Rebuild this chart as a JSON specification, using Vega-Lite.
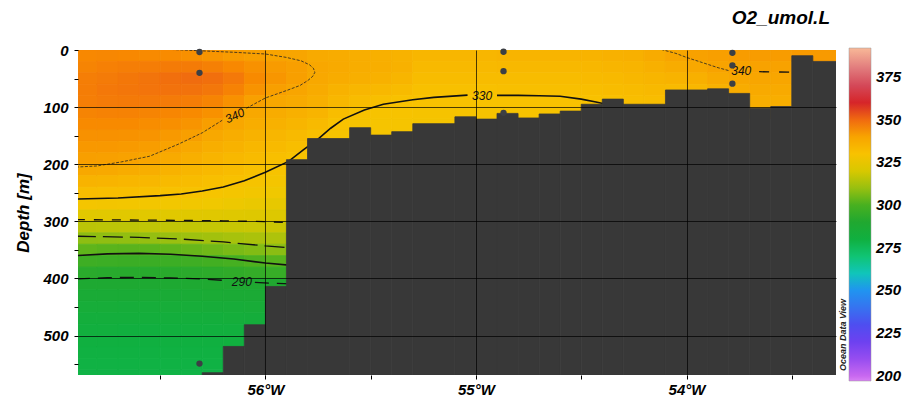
{
  "$schema": "https://vega.github.io/schema/vega-lite/v6.json",
  "width": 758,
  "height": 325,
  "autosize": "none",
  "padding": {"left": 78, "top": 50, "right": 70, "bottom": 30},
  "background": "white",
  "title": {"text": "O2_umol.L", "anchor": "end", "frame": "group", "fontSize": 19, "font": "Liberation Sans", "fontStyle": "italic", "fontWeight": "bold", "color": "#000", "offset": 4, "baseline": "alphabetic", "dx": -6, "dy": 4},
  "config": {"font": "Liberation Sans", "view": {"stroke": null}},
  "datasets": {
    "cells": [
      {"lon":-56.9,"lon2":-56.8,"dep":0,"dep2":20,"o2":345.3},{"lon":-56.9,"lon2":-56.8,"dep":20,"dep2":40,"o2":346.0},{"lon":-56.9,"lon2":-56.8,"dep":40,"dep2":60,"o2":346.8},{"lon":-56.9,"lon2":-56.8,"dep":60,"dep2":80,"o2":347.0},{"lon":-56.9,"lon2":-56.8,"dep":80,"dep2":100,"o2":346.8},{"lon":-56.9,"lon2":-56.8,"dep":100,"dep2":120,"o2":346.0},{"lon":-56.9,"lon2":-56.8,"dep":120,"dep2":140,"o2":345.0},{"lon":-56.9,"lon2":-56.8,"dep":140,"dep2":160,"o2":343.7},{"lon":-56.9,"lon2":-56.8,"dep":160,"dep2":180,"o2":342.3},{"lon":-56.9,"lon2":-56.8,"dep":180,"dep2":200,"o2":340.9},{"lon":-56.9,"lon2":-56.8,"dep":200,"dep2":220,"o2":338.8},{"lon":-56.9,"lon2":-56.8,"dep":220,"dep2":240,"o2":335.3},{"lon":-56.9,"lon2":-56.8,"dep":240,"dep2":260,"o2":331.9},{"lon":-56.9,"lon2":-56.8,"dep":260,"dep2":280,"o2":327.5},{"lon":-56.9,"lon2":-56.8,"dep":280,"dep2":300,"o2":321.9},{"lon":-56.9,"lon2":-56.8,"dep":300,"dep2":320,"o2":315.5},{"lon":-56.9,"lon2":-56.8,"dep":320,"dep2":340,"o2":308.8},{"lon":-56.9,"lon2":-56.8,"dep":340,"dep2":360,"o2":302.9},{"lon":-56.9,"lon2":-56.8,"dep":360,"dep2":380,"o2":297.5},{"lon":-56.9,"lon2":-56.8,"dep":380,"dep2":400,"o2":292.5},{"lon":-56.9,"lon2":-56.8,"dep":400,"dep2":420,"o2":288.8},{"lon":-56.9,"lon2":-56.8,"dep":420,"dep2":440,"o2":286.3},{"lon":-56.9,"lon2":-56.8,"dep":440,"dep2":460,"o2":284.2},{"lon":-56.9,"lon2":-56.8,"dep":460,"dep2":480,"o2":282.6},{"lon":-56.9,"lon2":-56.8,"dep":480,"dep2":500,"o2":281.0},{"lon":-56.9,"lon2":-56.8,"dep":500,"dep2":520,"o2":280.2},{"lon":-56.9,"lon2":-56.8,"dep":520,"dep2":540,"o2":279.4},{"lon":-56.9,"lon2":-56.8,"dep":540,"dep2":560,"o2":278.7},{"lon":-56.9,"lon2":-56.8,"dep":560,"dep2":580,"o2":278.0},
      {"lon":-56.8,"lon2":-56.7,"dep":0,"dep2":20,"o2":345.5},{"lon":-56.8,"lon2":-56.7,"dep":20,"dep2":40,"o2":346.5},{"lon":-56.8,"lon2":-56.7,"dep":40,"dep2":60,"o2":347.4},{"lon":-56.8,"lon2":-56.7,"dep":60,"dep2":80,"o2":347.8},{"lon":-56.8,"lon2":-56.7,"dep":80,"dep2":100,"o2":347.4},{"lon":-56.8,"lon2":-56.7,"dep":100,"dep2":120,"o2":346.3},{"lon":-56.8,"lon2":-56.7,"dep":120,"dep2":140,"o2":345.0},{"lon":-56.8,"lon2":-56.7,"dep":140,"dep2":160,"o2":343.7},{"lon":-56.8,"lon2":-56.7,"dep":160,"dep2":180,"o2":342.3},{"lon":-56.8,"lon2":-56.7,"dep":180,"dep2":200,"o2":340.8},{"lon":-56.8,"lon2":-56.7,"dep":200,"dep2":220,"o2":338.3},{"lon":-56.8,"lon2":-56.7,"dep":220,"dep2":240,"o2":334.9},{"lon":-56.8,"lon2":-56.7,"dep":240,"dep2":260,"o2":331.5},{"lon":-56.8,"lon2":-56.7,"dep":260,"dep2":280,"o2":327.1},{"lon":-56.8,"lon2":-56.7,"dep":280,"dep2":300,"o2":321.8},{"lon":-56.8,"lon2":-56.7,"dep":300,"dep2":320,"o2":315.7},{"lon":-56.8,"lon2":-56.7,"dep":320,"dep2":340,"o2":309.0},{"lon":-56.8,"lon2":-56.7,"dep":340,"dep2":360,"o2":302.3},{"lon":-56.8,"lon2":-56.7,"dep":360,"dep2":380,"o2":296.9},{"lon":-56.8,"lon2":-56.7,"dep":380,"dep2":400,"o2":292.1},{"lon":-56.8,"lon2":-56.7,"dep":400,"dep2":420,"o2":288.6},{"lon":-56.8,"lon2":-56.7,"dep":420,"dep2":440,"o2":286.1},{"lon":-56.8,"lon2":-56.7,"dep":440,"dep2":460,"o2":284.1},{"lon":-56.8,"lon2":-56.7,"dep":460,"dep2":480,"o2":282.5},{"lon":-56.8,"lon2":-56.7,"dep":480,"dep2":500,"o2":281.0},{"lon":-56.8,"lon2":-56.7,"dep":500,"dep2":520,"o2":280.2},{"lon":-56.8,"lon2":-56.7,"dep":520,"dep2":540,"o2":279.4},{"lon":-56.8,"lon2":-56.7,"dep":540,"dep2":560,"o2":278.6},{"lon":-56.8,"lon2":-56.7,"dep":560,"dep2":580,"o2":278.0},
      {"lon":-56.7,"lon2":-56.6,"dep":0,"dep2":20,"o2":345.3},{"lon":-56.7,"lon2":-56.6,"dep":20,"dep2":40,"o2":346.8},{"lon":-56.7,"lon2":-56.6,"dep":40,"dep2":60,"o2":347.9},{"lon":-56.7,"lon2":-56.6,"dep":60,"dep2":80,"o2":348.2},{"lon":-56.7,"lon2":-56.6,"dep":80,"dep2":100,"o2":347.5},{"lon":-56.7,"lon2":-56.6,"dep":100,"dep2":120,"o2":346.3},{"lon":-56.7,"lon2":-56.6,"dep":120,"dep2":140,"o2":345.0},{"lon":-56.7,"lon2":-56.6,"dep":140,"dep2":160,"o2":343.5},{"lon":-56.7,"lon2":-56.6,"dep":160,"dep2":180,"o2":342.0},{"lon":-56.7,"lon2":-56.6,"dep":180,"dep2":200,"o2":340.4},{"lon":-56.7,"lon2":-56.6,"dep":200,"dep2":220,"o2":337.6},{"lon":-56.7,"lon2":-56.6,"dep":220,"dep2":240,"o2":334.4},{"lon":-56.7,"lon2":-56.6,"dep":240,"dep2":260,"o2":331.3},{"lon":-56.7,"lon2":-56.6,"dep":260,"dep2":280,"o2":326.9},{"lon":-56.7,"lon2":-56.6,"dep":280,"dep2":300,"o2":321.8},{"lon":-56.7,"lon2":-56.6,"dep":300,"dep2":320,"o2":315.8},{"lon":-56.7,"lon2":-56.6,"dep":320,"dep2":340,"o2":309.3},{"lon":-56.7,"lon2":-56.6,"dep":340,"dep2":360,"o2":302.1},{"lon":-56.7,"lon2":-56.6,"dep":360,"dep2":380,"o2":296.7},{"lon":-56.7,"lon2":-56.6,"dep":380,"dep2":400,"o2":291.9},{"lon":-56.7,"lon2":-56.6,"dep":400,"dep2":420,"o2":288.5},{"lon":-56.7,"lon2":-56.6,"dep":420,"dep2":440,"o2":286.0},{"lon":-56.7,"lon2":-56.6,"dep":440,"dep2":460,"o2":284.0},{"lon":-56.7,"lon2":-56.6,"dep":460,"dep2":480,"o2":282.4},{"lon":-56.7,"lon2":-56.6,"dep":480,"dep2":500,"o2":280.9},{"lon":-56.7,"lon2":-56.6,"dep":500,"dep2":520,"o2":280.1},{"lon":-56.7,"lon2":-56.6,"dep":520,"dep2":540,"o2":279.3},{"lon":-56.7,"lon2":-56.6,"dep":540,"dep2":560,"o2":278.6},{"lon":-56.7,"lon2":-56.6,"dep":560,"dep2":580,"o2":278.0},
      {"lon":-56.6,"lon2":-56.5,"dep":0,"dep2":20,"o2":345.0},{"lon":-56.6,"lon2":-56.5,"dep":20,"dep2":40,"o2":347.0},{"lon":-56.6,"lon2":-56.5,"dep":40,"dep2":60,"o2":348.5},{"lon":-56.6,"lon2":-56.5,"dep":60,"dep2":80,"o2":348.4},{"lon":-56.6,"lon2":-56.5,"dep":80,"dep2":100,"o2":347.5},{"lon":-56.6,"lon2":-56.5,"dep":100,"dep2":120,"o2":346.0},{"lon":-56.6,"lon2":-56.5,"dep":120,"dep2":140,"o2":344.5},{"lon":-56.6,"lon2":-56.5,"dep":140,"dep2":160,"o2":343.0},{"lon":-56.6,"lon2":-56.5,"dep":160,"dep2":180,"o2":341.4},{"lon":-56.6,"lon2":-56.5,"dep":180,"dep2":200,"o2":339.7},{"lon":-56.6,"lon2":-56.5,"dep":200,"dep2":220,"o2":336.8},{"lon":-56.6,"lon2":-56.5,"dep":220,"dep2":240,"o2":333.8},{"lon":-56.6,"lon2":-56.5,"dep":240,"dep2":260,"o2":330.9},{"lon":-56.6,"lon2":-56.5,"dep":260,"dep2":280,"o2":326.7},{"lon":-56.6,"lon2":-56.5,"dep":280,"dep2":300,"o2":321.9},{"lon":-56.6,"lon2":-56.5,"dep":300,"dep2":320,"o2":316.1},{"lon":-56.6,"lon2":-56.5,"dep":320,"dep2":340,"o2":309.6},{"lon":-56.6,"lon2":-56.5,"dep":340,"dep2":360,"o2":302.2},{"lon":-56.6,"lon2":-56.5,"dep":360,"dep2":380,"o2":296.7},{"lon":-56.6,"lon2":-56.5,"dep":380,"dep2":400,"o2":291.9},{"lon":-56.6,"lon2":-56.5,"dep":400,"dep2":420,"o2":288.5},{"lon":-56.6,"lon2":-56.5,"dep":420,"dep2":440,"o2":286.0},{"lon":-56.6,"lon2":-56.5,"dep":440,"dep2":460,"o2":284.0},{"lon":-56.6,"lon2":-56.5,"dep":460,"dep2":480,"o2":282.4},{"lon":-56.6,"lon2":-56.5,"dep":480,"dep2":500,"o2":280.9},{"lon":-56.6,"lon2":-56.5,"dep":500,"dep2":520,"o2":280.1},{"lon":-56.6,"lon2":-56.5,"dep":520,"dep2":540,"o2":279.3},{"lon":-56.6,"lon2":-56.5,"dep":540,"dep2":560,"o2":278.6},{"lon":-56.6,"lon2":-56.5,"dep":560,"dep2":580,"o2":278.0},
      {"lon":-56.5,"lon2":-56.4,"dep":0,"dep2":20,"o2":344.8},{"lon":-56.5,"lon2":-56.4,"dep":20,"dep2":40,"o2":347.3},{"lon":-56.5,"lon2":-56.4,"dep":40,"dep2":60,"o2":349.2},{"lon":-56.5,"lon2":-56.4,"dep":60,"dep2":80,"o2":348.7},{"lon":-56.5,"lon2":-56.4,"dep":80,"dep2":100,"o2":347.4},{"lon":-56.5,"lon2":-56.4,"dep":100,"dep2":120,"o2":345.7},{"lon":-56.5,"lon2":-56.4,"dep":120,"dep2":140,"o2":344.0},{"lon":-56.5,"lon2":-56.4,"dep":140,"dep2":160,"o2":342.2},{"lon":-56.5,"lon2":-56.4,"dep":160,"dep2":180,"o2":340.4},{"lon":-56.5,"lon2":-56.4,"dep":180,"dep2":200,"o2":338.1},{"lon":-56.5,"lon2":-56.4,"dep":200,"dep2":220,"o2":335.5},{"lon":-56.5,"lon2":-56.4,"dep":220,"dep2":240,"o2":332.9},{"lon":-56.5,"lon2":-56.4,"dep":240,"dep2":260,"o2":330.4},{"lon":-56.5,"lon2":-56.4,"dep":260,"dep2":280,"o2":326.2},{"lon":-56.5,"lon2":-56.4,"dep":280,"dep2":300,"o2":321.8},{"lon":-56.5,"lon2":-56.4,"dep":300,"dep2":320,"o2":316.4},{"lon":-56.5,"lon2":-56.4,"dep":320,"dep2":340,"o2":310.3},{"lon":-56.5,"lon2":-56.4,"dep":340,"dep2":360,"o2":303.0},{"lon":-56.5,"lon2":-56.4,"dep":360,"dep2":380,"o2":297.1},{"lon":-56.5,"lon2":-56.4,"dep":380,"dep2":400,"o2":292.2},{"lon":-56.5,"lon2":-56.4,"dep":400,"dep2":420,"o2":288.6},{"lon":-56.5,"lon2":-56.4,"dep":420,"dep2":440,"o2":286.1},{"lon":-56.5,"lon2":-56.4,"dep":440,"dep2":460,"o2":284.1},{"lon":-56.5,"lon2":-56.4,"dep":460,"dep2":480,"o2":282.5},{"lon":-56.5,"lon2":-56.4,"dep":480,"dep2":500,"o2":281.0},{"lon":-56.5,"lon2":-56.4,"dep":500,"dep2":520,"o2":280.2},{"lon":-56.5,"lon2":-56.4,"dep":520,"dep2":540,"o2":279.4},{"lon":-56.5,"lon2":-56.4,"dep":540,"dep2":560,"o2":278.6},{"lon":-56.5,"lon2":-56.4,"dep":560,"dep2":580,"o2":278.0},
      {"lon":-56.4,"lon2":-56.3,"dep":0,"dep2":20,"o2":343.8},{"lon":-56.4,"lon2":-56.3,"dep":20,"dep2":40,"o2":347.3},{"lon":-56.4,"lon2":-56.3,"dep":40,"dep2":60,"o2":349.7},{"lon":-56.4,"lon2":-56.3,"dep":60,"dep2":80,"o2":348.8},{"lon":-56.4,"lon2":-56.3,"dep":80,"dep2":100,"o2":347.0},{"lon":-56.4,"lon2":-56.3,"dep":100,"dep2":120,"o2":345.0},{"lon":-56.4,"lon2":-56.3,"dep":120,"dep2":140,"o2":343.0},{"lon":-56.4,"lon2":-56.3,"dep":140,"dep2":160,"o2":341.0},{"lon":-56.4,"lon2":-56.3,"dep":160,"dep2":180,"o2":338.9},{"lon":-56.4,"lon2":-56.3,"dep":180,"dep2":200,"o2":336.6},{"lon":-56.4,"lon2":-56.3,"dep":200,"dep2":220,"o2":334.3},{"lon":-56.4,"lon2":-56.3,"dep":220,"dep2":240,"o2":332.0},{"lon":-56.4,"lon2":-56.3,"dep":240,"dep2":260,"o2":329.6},{"lon":-56.4,"lon2":-56.3,"dep":260,"dep2":280,"o2":325.6},{"lon":-56.4,"lon2":-56.3,"dep":280,"dep2":300,"o2":321.6},{"lon":-56.4,"lon2":-56.3,"dep":300,"dep2":320,"o2":316.6},{"lon":-56.4,"lon2":-56.3,"dep":320,"dep2":340,"o2":310.9},{"lon":-56.4,"lon2":-56.3,"dep":340,"dep2":360,"o2":303.9},{"lon":-56.4,"lon2":-56.3,"dep":360,"dep2":380,"o2":297.8},{"lon":-56.4,"lon2":-56.3,"dep":380,"dep2":400,"o2":292.8},{"lon":-56.4,"lon2":-56.3,"dep":400,"dep2":420,"o2":288.9},{"lon":-56.4,"lon2":-56.3,"dep":420,"dep2":440,"o2":286.4},{"lon":-56.4,"lon2":-56.3,"dep":440,"dep2":460,"o2":284.3},{"lon":-56.4,"lon2":-56.3,"dep":460,"dep2":480,"o2":282.7},{"lon":-56.4,"lon2":-56.3,"dep":480,"dep2":500,"o2":281.1},{"lon":-56.4,"lon2":-56.3,"dep":500,"dep2":520,"o2":280.2},{"lon":-56.4,"lon2":-56.3,"dep":520,"dep2":540,"o2":279.4},{"lon":-56.4,"lon2":-56.3,"dep":540,"dep2":560,"o2":278.7},{"lon":-56.4,"lon2":-56.3,"dep":560,"dep2":580,"o2":278.0},
      {"lon":-56.3,"lon2":-56.2,"dep":0,"dep2":20,"o2":342.9},{"lon":-56.3,"lon2":-56.2,"dep":20,"dep2":40,"o2":346.6},{"lon":-56.3,"lon2":-56.2,"dep":40,"dep2":60,"o2":349.2},{"lon":-56.3,"lon2":-56.2,"dep":60,"dep2":80,"o2":348.0},{"lon":-56.3,"lon2":-56.2,"dep":80,"dep2":100,"o2":346.0},{"lon":-56.3,"lon2":-56.2,"dep":100,"dep2":120,"o2":343.7},{"lon":-56.3,"lon2":-56.2,"dep":120,"dep2":140,"o2":341.1},{"lon":-56.3,"lon2":-56.2,"dep":140,"dep2":160,"o2":338.8},{"lon":-56.3,"lon2":-56.2,"dep":160,"dep2":180,"o2":336.9},{"lon":-56.3,"lon2":-56.2,"dep":180,"dep2":200,"o2":335.0},{"lon":-56.3,"lon2":-56.2,"dep":200,"dep2":220,"o2":333.1},{"lon":-56.3,"lon2":-56.2,"dep":220,"dep2":240,"o2":331.2},{"lon":-56.3,"lon2":-56.2,"dep":240,"dep2":260,"o2":328.6},{"lon":-56.3,"lon2":-56.2,"dep":260,"dep2":280,"o2":325.1},{"lon":-56.3,"lon2":-56.2,"dep":280,"dep2":300,"o2":321.6},{"lon":-56.3,"lon2":-56.2,"dep":300,"dep2":320,"o2":317.0},{"lon":-56.3,"lon2":-56.2,"dep":320,"dep2":340,"o2":311.6},{"lon":-56.3,"lon2":-56.2,"dep":340,"dep2":360,"o2":305.0},{"lon":-56.3,"lon2":-56.2,"dep":360,"dep2":380,"o2":298.5},{"lon":-56.3,"lon2":-56.2,"dep":380,"dep2":400,"o2":293.3},{"lon":-56.3,"lon2":-56.2,"dep":400,"dep2":420,"o2":289.1},{"lon":-56.3,"lon2":-56.2,"dep":420,"dep2":440,"o2":286.6},{"lon":-56.3,"lon2":-56.2,"dep":440,"dep2":460,"o2":284.4},{"lon":-56.3,"lon2":-56.2,"dep":460,"dep2":480,"o2":282.8},{"lon":-56.3,"lon2":-56.2,"dep":480,"dep2":500,"o2":281.2},{"lon":-56.3,"lon2":-56.2,"dep":500,"dep2":520,"o2":280.3},{"lon":-56.3,"lon2":-56.2,"dep":520,"dep2":540,"o2":279.5},{"lon":-56.3,"lon2":-56.2,"dep":540,"dep2":560,"o2":278.7},{"lon":-56.3,"lon2":-56.2,"dep":560,"dep2":580,"o2":278.0},
      {"lon":-56.2,"lon2":-56.1,"dep":0,"dep2":20,"o2":341.8},{"lon":-56.2,"lon2":-56.1,"dep":20,"dep2":40,"o2":345.3},{"lon":-56.2,"lon2":-56.1,"dep":40,"dep2":60,"o2":347.7},{"lon":-56.2,"lon2":-56.1,"dep":60,"dep2":80,"o2":346.2},{"lon":-56.2,"lon2":-56.1,"dep":80,"dep2":100,"o2":343.7},{"lon":-56.2,"lon2":-56.1,"dep":100,"dep2":120,"o2":341.1},{"lon":-56.2,"lon2":-56.1,"dep":120,"dep2":140,"o2":339.0},{"lon":-56.2,"lon2":-56.1,"dep":140,"dep2":160,"o2":337.2},{"lon":-56.2,"lon2":-56.1,"dep":160,"dep2":180,"o2":335.5},{"lon":-56.2,"lon2":-56.1,"dep":180,"dep2":200,"o2":333.7},{"lon":-56.2,"lon2":-56.1,"dep":200,"dep2":220,"o2":332.0},{"lon":-56.2,"lon2":-56.1,"dep":220,"dep2":240,"o2":330.3},{"lon":-56.2,"lon2":-56.1,"dep":240,"dep2":260,"o2":327.4},{"lon":-56.2,"lon2":-56.1,"dep":260,"dep2":280,"o2":324.4},{"lon":-56.2,"lon2":-56.1,"dep":280,"dep2":300,"o2":321.4},{"lon":-56.2,"lon2":-56.1,"dep":300,"dep2":320,"o2":317.3},{"lon":-56.2,"lon2":-56.1,"dep":320,"dep2":340,"o2":312.3},{"lon":-56.2,"lon2":-56.1,"dep":340,"dep2":360,"o2":306.2},{"lon":-56.2,"lon2":-56.1,"dep":360,"dep2":380,"o2":299.5},{"lon":-56.2,"lon2":-56.1,"dep":380,"dep2":400,"o2":294.1},{"lon":-56.2,"lon2":-56.1,"dep":400,"dep2":420,"o2":289.4},{"lon":-56.2,"lon2":-56.1,"dep":420,"dep2":440,"o2":286.9},{"lon":-56.2,"lon2":-56.1,"dep":440,"dep2":460,"o2":284.6},{"lon":-56.2,"lon2":-56.1,"dep":460,"dep2":480,"o2":283.0},{"lon":-56.2,"lon2":-56.1,"dep":480,"dep2":500,"o2":281.4},{"lon":-56.2,"lon2":-56.1,"dep":500,"dep2":520,"o2":280.5},
      {"lon":-56.1,"lon2":-56.0,"dep":0,"dep2":20,"o2":340.9},{"lon":-56.1,"lon2":-56.0,"dep":20,"dep2":40,"o2":343.6},{"lon":-56.1,"lon2":-56.0,"dep":40,"dep2":60,"o2":345.0},{"lon":-56.1,"lon2":-56.0,"dep":60,"dep2":80,"o2":343.2},{"lon":-56.1,"lon2":-56.0,"dep":80,"dep2":100,"o2":340.8},{"lon":-56.1,"lon2":-56.0,"dep":100,"dep2":120,"o2":338.9},{"lon":-56.1,"lon2":-56.0,"dep":120,"dep2":140,"o2":337.3},{"lon":-56.1,"lon2":-56.0,"dep":140,"dep2":160,"o2":335.7},{"lon":-56.1,"lon2":-56.0,"dep":160,"dep2":180,"o2":334.1},{"lon":-56.1,"lon2":-56.0,"dep":180,"dep2":200,"o2":332.4},{"lon":-56.1,"lon2":-56.0,"dep":200,"dep2":220,"o2":330.8},{"lon":-56.1,"lon2":-56.0,"dep":220,"dep2":240,"o2":328.8},{"lon":-56.1,"lon2":-56.0,"dep":240,"dep2":260,"o2":326.3},{"lon":-56.1,"lon2":-56.0,"dep":260,"dep2":280,"o2":323.8},{"lon":-56.1,"lon2":-56.0,"dep":280,"dep2":300,"o2":321.3},{"lon":-56.1,"lon2":-56.0,"dep":300,"dep2":320,"o2":317.6},{"lon":-56.1,"lon2":-56.0,"dep":320,"dep2":340,"o2":312.9},{"lon":-56.1,"lon2":-56.0,"dep":340,"dep2":360,"o2":307.3},{"lon":-56.1,"lon2":-56.0,"dep":360,"dep2":380,"o2":300.7},{"lon":-56.1,"lon2":-56.0,"dep":380,"dep2":400,"o2":294.9},{"lon":-56.1,"lon2":-56.0,"dep":400,"dep2":420,"o2":289.6},{"lon":-56.1,"lon2":-56.0,"dep":420,"dep2":440,"o2":287.1},{"lon":-56.1,"lon2":-56.0,"dep":440,"dep2":460,"o2":284.8},{"lon":-56.1,"lon2":-56.0,"dep":460,"dep2":480,"o2":283.2},{"lon":-56.1,"lon2":-56.0,"dep":480,"dep2":500,"o2":281.6},
      {"lon":-56.0,"lon2":-55.9,"dep":0,"dep2":20,"o2":340.0},{"lon":-56.0,"lon2":-55.9,"dep":20,"dep2":40,"o2":341.8},{"lon":-56.0,"lon2":-55.9,"dep":40,"dep2":60,"o2":342.6},{"lon":-56.0,"lon2":-55.9,"dep":60,"dep2":80,"o2":340.9},{"lon":-56.0,"lon2":-55.9,"dep":80,"dep2":100,"o2":339.2},{"lon":-56.0,"lon2":-55.9,"dep":100,"dep2":120,"o2":337.6},{"lon":-56.0,"lon2":-55.9,"dep":120,"dep2":140,"o2":336.0},{"lon":-56.0,"lon2":-55.9,"dep":140,"dep2":160,"o2":334.4},{"lon":-56.0,"lon2":-55.9,"dep":160,"dep2":180,"o2":332.7},{"lon":-56.0,"lon2":-55.9,"dep":180,"dep2":200,"o2":331.1},{"lon":-56.0,"lon2":-55.9,"dep":200,"dep2":220,"o2":329.4},{"lon":-56.0,"lon2":-55.9,"dep":220,"dep2":240,"o2":327.3},{"lon":-56.0,"lon2":-55.9,"dep":240,"dep2":260,"o2":325.3},{"lon":-56.0,"lon2":-55.9,"dep":260,"dep2":280,"o2":323.2},{"lon":-56.0,"lon2":-55.9,"dep":280,"dep2":300,"o2":321.1},{"lon":-56.0,"lon2":-55.9,"dep":300,"dep2":320,"o2":318.0},{"lon":-56.0,"lon2":-55.9,"dep":320,"dep2":340,"o2":313.4},{"lon":-56.0,"lon2":-55.9,"dep":340,"dep2":360,"o2":308.4},{"lon":-56.0,"lon2":-55.9,"dep":360,"dep2":380,"o2":301.9},{"lon":-56.0,"lon2":-55.9,"dep":380,"dep2":400,"o2":295.8},{"lon":-56.0,"lon2":-55.9,"dep":400,"dep2":420,"o2":289.9},
      {"lon":-55.9,"lon2":-55.8,"dep":0,"dep2":20,"o2":339.8},{"lon":-55.9,"lon2":-55.8,"dep":20,"dep2":40,"o2":341.0},{"lon":-55.9,"lon2":-55.8,"dep":40,"dep2":60,"o2":341.0},{"lon":-55.9,"lon2":-55.8,"dep":60,"dep2":80,"o2":339.8},{"lon":-55.9,"lon2":-55.8,"dep":80,"dep2":100,"o2":338.1},{"lon":-55.9,"lon2":-55.8,"dep":100,"dep2":120,"o2":336.4},{"lon":-55.9,"lon2":-55.8,"dep":120,"dep2":140,"o2":334.7},{"lon":-55.9,"lon2":-55.8,"dep":140,"dep2":160,"o2":333.0},{"lon":-55.9,"lon2":-55.8,"dep":160,"dep2":180,"o2":331.3},{"lon":-55.9,"lon2":-55.8,"dep":180,"dep2":200,"o2":329.7},
      {"lon":-55.8,"lon2":-55.7,"dep":0,"dep2":20,"o2":338.0},{"lon":-55.8,"lon2":-55.7,"dep":20,"dep2":40,"o2":339.0},{"lon":-55.8,"lon2":-55.7,"dep":40,"dep2":60,"o2":338.9},{"lon":-55.8,"lon2":-55.7,"dep":60,"dep2":80,"o2":337.8},{"lon":-55.8,"lon2":-55.7,"dep":80,"dep2":100,"o2":336.6},{"lon":-55.8,"lon2":-55.7,"dep":100,"dep2":120,"o2":335.0},{"lon":-55.8,"lon2":-55.7,"dep":120,"dep2":140,"o2":333.0},{"lon":-55.8,"lon2":-55.7,"dep":140,"dep2":160,"o2":331.0},
      {"lon":-55.7,"lon2":-55.6,"dep":0,"dep2":20,"o2":337.4},{"lon":-55.7,"lon2":-55.6,"dep":20,"dep2":40,"o2":338.1},{"lon":-55.7,"lon2":-55.6,"dep":40,"dep2":60,"o2":337.6},{"lon":-55.7,"lon2":-55.6,"dep":60,"dep2":80,"o2":335.7},{"lon":-55.7,"lon2":-55.6,"dep":80,"dep2":100,"o2":333.8},{"lon":-55.7,"lon2":-55.6,"dep":100,"dep2":120,"o2":331.9},{"lon":-55.7,"lon2":-55.6,"dep":120,"dep2":140,"o2":330.0},{"lon":-55.7,"lon2":-55.6,"dep":140,"dep2":160,"o2":328.8},
      {"lon":-55.6,"lon2":-55.5,"dep":0,"dep2":20,"o2":336.8},{"lon":-55.6,"lon2":-55.5,"dep":20,"dep2":40,"o2":337.3},{"lon":-55.6,"lon2":-55.5,"dep":40,"dep2":60,"o2":336.5},{"lon":-55.6,"lon2":-55.5,"dep":60,"dep2":80,"o2":334.4},{"lon":-55.6,"lon2":-55.5,"dep":80,"dep2":100,"o2":332.3},{"lon":-55.6,"lon2":-55.5,"dep":100,"dep2":120,"o2":330.2},{"lon":-55.6,"lon2":-55.5,"dep":120,"dep2":140,"o2":328.9},
      {"lon":-55.5,"lon2":-55.4,"dep":0,"dep2":20,"o2":336.3},{"lon":-55.5,"lon2":-55.4,"dep":20,"dep2":40,"o2":336.8},{"lon":-55.5,"lon2":-55.4,"dep":40,"dep2":60,"o2":335.8},{"lon":-55.5,"lon2":-55.4,"dep":60,"dep2":80,"o2":333.4},{"lon":-55.5,"lon2":-55.4,"dep":80,"dep2":100,"o2":331.0},{"lon":-55.5,"lon2":-55.4,"dep":100,"dep2":120,"o2":329.5},{"lon":-55.5,"lon2":-55.4,"dep":120,"dep2":140,"o2":328.7},{"lon":-55.5,"lon2":-55.4,"dep":140,"dep2":160,"o2":328.0},
      {"lon":-55.4,"lon2":-55.3,"dep":0,"dep2":20,"o2":335.6},{"lon":-55.4,"lon2":-55.3,"dep":20,"dep2":40,"o2":335.9},{"lon":-55.4,"lon2":-55.3,"dep":40,"dep2":60,"o2":334.8},{"lon":-55.4,"lon2":-55.3,"dep":60,"dep2":80,"o2":332.5},{"lon":-55.4,"lon2":-55.3,"dep":80,"dep2":100,"o2":330.2},{"lon":-55.4,"lon2":-55.3,"dep":100,"dep2":120,"o2":329.3},{"lon":-55.4,"lon2":-55.3,"dep":120,"dep2":140,"o2":328.5},{"lon":-55.4,"lon2":-55.3,"dep":140,"dep2":160,"o2":328.0},
      {"lon":-55.3,"lon2":-54.9,"dep":0,"dep2":20,"o2":334.4},{"lon":-55.3,"lon2":-54.9,"dep":20,"dep2":40,"o2":333.2},{"lon":-55.3,"lon2":-54.9,"dep":40,"dep2":60,"o2":332.0},{"lon":-55.3,"lon2":-54.9,"dep":60,"dep2":80,"o2":330.8},{"lon":-55.3,"lon2":-54.9,"dep":80,"dep2":100,"o2":329.7},{"lon":-55.3,"lon2":-54.9,"dep":100,"dep2":120,"o2":328.9},{"lon":-55.3,"lon2":-54.9,"dep":120,"dep2":140,"o2":328.2},
      {"lon":-54.9,"lon2":-54.5,"dep":0,"dep2":20,"o2":334.9},{"lon":-54.9,"lon2":-54.5,"dep":20,"dep2":40,"o2":333.6},{"lon":-54.9,"lon2":-54.5,"dep":40,"dep2":60,"o2":332.2},{"lon":-54.9,"lon2":-54.5,"dep":60,"dep2":80,"o2":330.9},{"lon":-54.9,"lon2":-54.5,"dep":80,"dep2":100,"o2":329.8},{"lon":-54.9,"lon2":-54.5,"dep":100,"dep2":120,"o2":329.2},
      {"lon":-54.5,"lon2":-54.4,"dep":0,"dep2":20,"o2":335.4},{"lon":-54.5,"lon2":-54.4,"dep":20,"dep2":40,"o2":334.1},{"lon":-54.5,"lon2":-54.4,"dep":40,"dep2":60,"o2":332.8},{"lon":-54.5,"lon2":-54.4,"dep":60,"dep2":80,"o2":331.5},{"lon":-54.5,"lon2":-54.4,"dep":80,"dep2":100,"o2":330.2},
      {"lon":-54.4,"lon2":-54.3,"dep":0,"dep2":20,"o2":335.9},{"lon":-54.4,"lon2":-54.3,"dep":20,"dep2":40,"o2":334.6},{"lon":-54.4,"lon2":-54.3,"dep":40,"dep2":60,"o2":333.3},{"lon":-54.4,"lon2":-54.3,"dep":60,"dep2":80,"o2":332.1},{"lon":-54.4,"lon2":-54.3,"dep":80,"dep2":100,"o2":330.8},
      {"lon":-54.3,"lon2":-54.2,"dep":0,"dep2":20,"o2":336.4},{"lon":-54.3,"lon2":-54.2,"dep":20,"dep2":40,"o2":335.1},{"lon":-54.3,"lon2":-54.2,"dep":40,"dep2":60,"o2":333.8},{"lon":-54.3,"lon2":-54.2,"dep":60,"dep2":80,"o2":332.6},{"lon":-54.3,"lon2":-54.2,"dep":80,"dep2":100,"o2":331.3},
      {"lon":-54.2,"lon2":-54.1,"dep":0,"dep2":20,"o2":337.8},{"lon":-54.2,"lon2":-54.1,"dep":20,"dep2":40,"o2":336.3},{"lon":-54.2,"lon2":-54.1,"dep":40,"dep2":60,"o2":334.8},{"lon":-54.2,"lon2":-54.1,"dep":60,"dep2":80,"o2":333.3},{"lon":-54.2,"lon2":-54.1,"dep":80,"dep2":100,"o2":331.9},
      {"lon":-54.1,"lon2":-54.0,"dep":0,"dep2":20,"o2":339.8},{"lon":-54.1,"lon2":-54.0,"dep":20,"dep2":40,"o2":337.5},{"lon":-54.1,"lon2":-54.0,"dep":40,"dep2":60,"o2":335.3},{"lon":-54.1,"lon2":-54.0,"dep":60,"dep2":80,"o2":333.0},
      {"lon":-54.0,"lon2":-53.9,"dep":0,"dep2":20,"o2":340.5},{"lon":-54.0,"lon2":-53.9,"dep":20,"dep2":40,"o2":338.7},{"lon":-54.0,"lon2":-53.9,"dep":40,"dep2":60,"o2":336.4},{"lon":-54.0,"lon2":-53.9,"dep":60,"dep2":80,"o2":334.0},
      {"lon":-53.9,"lon2":-53.8,"dep":0,"dep2":20,"o2":341.0},{"lon":-53.9,"lon2":-53.8,"dep":20,"dep2":40,"o2":340.1},{"lon":-53.9,"lon2":-53.8,"dep":40,"dep2":60,"o2":338.0},{"lon":-53.9,"lon2":-53.8,"dep":60,"dep2":80,"o2":335.8},
      {"lon":-53.8,"lon2":-53.7,"dep":0,"dep2":20,"o2":341.5},{"lon":-53.8,"lon2":-53.7,"dep":20,"dep2":40,"o2":340.4},{"lon":-53.8,"lon2":-53.7,"dep":40,"dep2":60,"o2":339.0},{"lon":-53.8,"lon2":-53.7,"dep":60,"dep2":80,"o2":337.5},
      {"lon":-53.7,"lon2":-53.6,"dep":0,"dep2":20,"o2":341.5},{"lon":-53.7,"lon2":-53.6,"dep":20,"dep2":40,"o2":340.4},{"lon":-53.7,"lon2":-53.6,"dep":40,"dep2":60,"o2":339.3},{"lon":-53.7,"lon2":-53.6,"dep":60,"dep2":80,"o2":338.0},{"lon":-53.7,"lon2":-53.6,"dep":80,"dep2":100,"o2":336.8},{"lon":-53.7,"lon2":-53.6,"dep":100,"dep2":120,"o2":336.0},
      {"lon":-53.6,"lon2":-53.5,"dep":0,"dep2":20,"o2":341.5},{"lon":-53.6,"lon2":-53.5,"dep":20,"dep2":40,"o2":340.4},{"lon":-53.6,"lon2":-53.5,"dep":40,"dep2":60,"o2":339.3},{"lon":-53.6,"lon2":-53.5,"dep":60,"dep2":80,"o2":338.2},{"lon":-53.6,"lon2":-53.5,"dep":80,"dep2":100,"o2":337.0},
      {"lon":-53.5,"lon2":-53.2,"dep":0,"dep2":20,"o2":342.0}
    ],
    "bathy": [
      {"lon":-56.3,"lon2":-56.2,"dep":565},{"lon":-56.2,"lon2":-56.1,"dep":519},{"lon":-56.1,"lon2":-56.0,"dep":481},{"lon":-56.0,"lon2":-55.9,"dep":414},{"lon":-55.9,"lon2":-55.8,"dep":192},{"lon":-55.8,"lon2":-55.6,"dep":155},{"lon":-55.6,"lon2":-55.5,"dep":136},{"lon":-55.5,"lon2":-55.4,"dep":149},{"lon":-55.4,"lon2":-55.3,"dep":143},{"lon":-55.3,"lon2":-55.1,"dep":129},{"lon":-55.1,"lon2":-55.0,"dep":117},{"lon":-55.0,"lon2":-54.9,"dep":121},{"lon":-54.9,"lon2":-54.8,"dep":111},{"lon":-54.8,"lon2":-54.7,"dep":119},{"lon":-54.7,"lon2":-54.6,"dep":112},{"lon":-54.6,"lon2":-54.5,"dep":107},{"lon":-54.5,"lon2":-54.4,"dep":95},{"lon":-54.4,"lon2":-54.3,"dep":86},{"lon":-54.3,"lon2":-54.1,"dep":95},{"lon":-54.1,"lon2":-53.9,"dep":70},{"lon":-53.9,"lon2":-53.8,"dep":68},{"lon":-53.8,"lon2":-53.7,"dep":76},{"lon":-53.7,"lon2":-53.6,"dep":102},{"lon":-53.6,"lon2":-53.5,"dep":99},{"lon":-53.5,"lon2":-53.4,"dep":10},{"lon":-53.4,"lon2":-53.2,"dep":20}
    ],
    "contours": [
      {"seg":"340a","sty":"thin","k":1,"lon":-56.9,"dep":205},{"seg":"340a","sty":"thin","k":2,"lon":-56.8,"dep":203},{"seg":"340a","sty":"thin","k":3,"lon":-56.685,"dep":196},{"seg":"340a","sty":"thin","k":4,"lon":-56.55,"dep":186},{"seg":"340a","sty":"thin","k":5,"lon":-56.414,"dep":165},{"seg":"340a","sty":"thin","k":6,"lon":-56.3,"dep":145},{"seg":"340a","sty":"thin","k":7,"lon":-56.205,"dep":123},
      {"seg":"340b","sty":"thin","k":1,"lon":-56.09,"dep":102},{"seg":"340b","sty":"thin","k":2,"lon":-56.0,"dep":84},{"seg":"340b","sty":"thin","k":3,"lon":-55.9,"dep":71},{"seg":"340b","sty":"thin","k":4,"lon":-55.835,"dep":62},{"seg":"340b","sty":"thin","k":5,"lon":-55.797,"dep":53},{"seg":"340b","sty":"thin","k":6,"lon":-55.775,"dep":46},{"seg":"340b","sty":"thin","k":7,"lon":-55.765,"dep":39},{"seg":"340b","sty":"thin","k":8,"lon":-55.772,"dep":32},{"seg":"340b","sty":"thin","k":9,"lon":-55.79,"dep":26},{"seg":"340b","sty":"thin","k":10,"lon":-55.83,"dep":19},{"seg":"340b","sty":"thin","k":11,"lon":-55.9,"dep":13},{"seg":"340b","sty":"thin","k":12,"lon":-56.0,"dep":7},{"seg":"340b","sty":"thin","k":13,"lon":-56.15,"dep":4},{"seg":"340b","sty":"thin","k":14,"lon":-56.3,"dep":1.5},{"seg":"340b","sty":"thin","k":15,"lon":-56.45,"dep":-1},
      {"seg":"340c","sty":"thin","k":1,"lon":-54.12,"dep":-1},{"seg":"340c","sty":"thin","k":2,"lon":-54.05,"dep":6},{"seg":"340c","sty":"thin","k":3,"lon":-54.0,"dep":13},{"seg":"340c","sty":"thin","k":4,"lon":-53.95,"dep":19},{"seg":"340c","sty":"thin","k":5,"lon":-53.9,"dep":25},{"seg":"340c","sty":"thin","k":6,"lon":-53.85,"dep":31},{"seg":"340c","sty":"thin","k":7,"lon":-53.8,"dep":36},
      {"seg":"340d","sty":"d340","k":1,"lon":-53.655,"dep":38},{"seg":"340d","sty":"d340","k":2,"lon":-53.48,"dep":39},
      {"seg":"330a","sty":"solid","k":1,"lon":-56.9,"dep":261},{"seg":"330a","sty":"solid","k":2,"lon":-56.7,"dep":259},{"seg":"330a","sty":"solid","k":3,"lon":-56.5,"dep":255},{"seg":"330a","sty":"solid","k":4,"lon":-56.4,"dep":252},{"seg":"330a","sty":"solid","k":5,"lon":-56.3,"dep":247},{"seg":"330a","sty":"solid","k":6,"lon":-56.2,"dep":240},{"seg":"330a","sty":"solid","k":7,"lon":-56.1,"dep":229},{"seg":"330a","sty":"solid","k":8,"lon":-56.0,"dep":214},{"seg":"330a","sty":"solid","k":9,"lon":-55.89,"dep":195},{"seg":"330a","sty":"solid","k":10,"lon":-55.82,"dep":175},{"seg":"330a","sty":"solid","k":11,"lon":-55.75,"dep":156},{"seg":"330a","sty":"solid","k":12,"lon":-55.69,"dep":137},{"seg":"330a","sty":"solid","k":13,"lon":-55.63,"dep":121},{"seg":"330a","sty":"solid","k":14,"lon":-55.53,"dep":105},{"seg":"330a","sty":"solid","k":15,"lon":-55.44,"dep":95},{"seg":"330a","sty":"solid","k":16,"lon":-55.3,"dep":87},{"seg":"330a","sty":"solid","k":17,"lon":-55.2,"dep":83},{"seg":"330a","sty":"solid","k":18,"lon":-55.04,"dep":79},
      {"seg":"330b","sty":"solid","k":1,"lon":-54.9,"dep":79.5},{"seg":"330b","sty":"solid","k":2,"lon":-54.8,"dep":79.5},{"seg":"330b","sty":"solid","k":3,"lon":-54.7,"dep":80},{"seg":"330b","sty":"solid","k":4,"lon":-54.6,"dep":81},{"seg":"330b","sty":"solid","k":5,"lon":-54.5,"dep":86},{"seg":"330b","sty":"solid","k":6,"lon":-54.43,"dep":91},{"seg":"330b","sty":"solid","k":7,"lon":-54.38,"dep":95},
      {"seg":"320","sty":"d320","k":1,"lon":-56.9,"dep":297},{"seg":"320","sty":"d320","k":2,"lon":-56.5,"dep":298},{"seg":"320","sty":"d320","k":3,"lon":-56.2,"dep":299},{"seg":"320","sty":"d320","k":4,"lon":-56.0,"dep":300.5},{"seg":"320","sty":"d320","k":5,"lon":-55.85,"dep":303},
      {"seg":"310","sty":"d310","k":1,"lon":-56.9,"dep":326},{"seg":"310","sty":"d310","k":2,"lon":-56.6,"dep":328},{"seg":"310","sty":"d310","k":3,"lon":-56.4,"dep":331},{"seg":"310","sty":"d310","k":4,"lon":-56.2,"dep":336},{"seg":"310","sty":"d310","k":5,"lon":-56.0,"dep":343},{"seg":"310","sty":"d310","k":6,"lon":-55.85,"dep":347},
      {"seg":"300","sty":"solid","k":1,"lon":-56.9,"dep":360},{"seg":"300","sty":"solid","k":2,"lon":-56.75,"dep":357},{"seg":"300","sty":"solid","k":3,"lon":-56.6,"dep":356},{"seg":"300","sty":"solid","k":4,"lon":-56.45,"dep":357.5},{"seg":"300","sty":"solid","k":5,"lon":-56.3,"dep":361},{"seg":"300","sty":"solid","k":6,"lon":-56.15,"dep":366},{"seg":"300","sty":"solid","k":7,"lon":-56.0,"dep":373},{"seg":"300","sty":"solid","k":8,"lon":-55.85,"dep":378},
      {"seg":"290a","sty":"d290","k":1,"lon":-56.9,"dep":401},{"seg":"290a","sty":"d290","k":2,"lon":-56.75,"dep":398.5},{"seg":"290a","sty":"d290","k":3,"lon":-56.6,"dep":398},{"seg":"290a","sty":"d290","k":4,"lon":-56.45,"dep":399},{"seg":"290a","sty":"d290","k":5,"lon":-56.3,"dep":401},{"seg":"290a","sty":"d290","k":6,"lon":-56.17,"dep":404},
      {"seg":"290b","sty":"d290","k":1,"lon":-56.05,"dep":407},{"seg":"290b","sty":"d290","k":2,"lon":-55.95,"dep":408.5},{"seg":"290b","sty":"d290","k":3,"lon":-55.85,"dep":410}
    ],
    "labels": [
      {"lon":-54.971,"dep":80.5,"t":"330"},{"lon":-53.74,"dep":37.5,"t":"340"},{"lon":-56.112,"dep":406,"t":"290"}
    ],
    "tilted": [
      {"lon":-56.145,"dep":115,"t":"340"}
    ],
    "stations": [
      {"lon":-56.313,"dep":3.5},{"lon":-56.313,"dep":40},{"lon":-56.313,"dep":549},
      {"lon":-54.869,"dep":3},{"lon":-54.869,"dep":37},{"lon":-54.869,"dep":110},
      {"lon":-53.782,"dep":5},{"lon":-53.782,"dep":27},{"lon":-53.782,"dep":59}
    ],
    "note": [
      {"lon":-53.257,"dep":499,"t":"Ocean Data View"}
    ]
  },
  "encoding": {
    "x": {
      "field": "lon", "type": "quantitative",
      "scale": {"domain": [-56.89, -53.29], "nice": false, "zero": false},
      "axis": {
        "title": null,
        "values": [-56.5, -56, -55.5, -55, -54.5, -54, -53.5],
        "labelExpr": "datum.value % 1 == 0 ? (abs(datum.value) + '°W') : ''",
        "grid": true, "gridColor": "#000", "gridWidth": 1,
        "gridOpacity": {"condition": {"test": "datum.value % 1 != 0", "value": 0}, "value": 0.7},
        "domain": false, "ticks": true, "tickColor": "#000", "tickSize": 4, "tickWidth": 1,
        "labelFont": "Liberation Sans", "labelFontSize": 15, "labelFontWeight": "bold", "labelFontStyle": "italic", "labelColor": "#000", "labelPadding": 3,
        "zindex": 1
      }
    },
    "y": {
      "field": "dep", "type": "quantitative",
      "scale": {"domain": [0, 569], "reverse": true, "nice": false, "zero": false},
      "axis": {
        "title": "Depth [m]",
        "values": [0, 50, 100, 150, 200, 250, 300, 350, 400, 450, 500, 550],
        "labelExpr": "datum.value % 100 == 0 ? datum.label : ''",
        "grid": true, "gridColor": "#000", "gridWidth": 1,
        "gridOpacity": {"condition": {"test": "datum.value % 100 != 0 || datum.value == 0", "value": 0}, "value": 0.7},
        "domain": false, "ticks": true, "tickColor": "#000", "tickSize": 4, "tickWidth": 1,
        "labelFont": "Liberation Sans", "labelFontSize": 15, "labelFontWeight": "bold", "labelFontStyle": "italic", "labelColor": "#000", "labelPadding": 6,
        "titleFont": "Liberation Sans", "titleFontSize": 17, "titleFontWeight": "bold", "titleFontStyle": "italic", "titleColor": "#000", "titlePadding": 10,
        "zindex": 1
      }
    }
  },
  "layer": [
    {
      "data": {"name": "cells"},
      "mark": {"type": "rect", "clip": true, "strokeWidth": 0.8, "stroke": {"expr": "scale('color', datum.o2)"}},
      "encoding": {
        "x2": {"field": "lon2"},
        "y2": {"field": "dep2"},
        "color": {
          "field": "o2", "type": "quantitative",
          "scale": {
            "domain": [197, 200, 212, 225, 238, 250, 258, 265, 275, 280, 290, 300, 310, 320, 325, 330, 335, 340, 345, 350, 358, 365, 375, 392],
            "range": ["#d880f4", "#c868f0", "#8c48f0", "#5a3cf0", "#3a6cf0", "#2094f0", "#10c0c8", "#10d098", "#10b850", "#10b040", "#20a830", "#48b020", "#98c010", "#d8c800", "#f0c800", "#f8c200", "#f8b400", "#f8a400", "#f88a00", "#f06a10", "#d82020", "#d03040", "#d86070", "#f8b898"],
            "interpolate": "rgb"
          },
          "legend": {
            "type": "gradient",
            "orient": "none", "legendX": 771, "legendY": -2, "direction": "vertical",
            "gradientLength": 333, "gradientThickness": 22, "title": null,
            "values": [200, 225, 250, 275, 300, 325, 350, 375], "format": "d",
            "labelFont": "Liberation Sans", "labelFontSize": 15, "labelFontWeight": "bold", "labelFontStyle": "italic", "labelColor": "#000",
            "labelOffset": 5, "labelOverlap": false, "gradientStrokeColor": "#999", "gradientStrokeWidth": 0.5, "padding": 0
          }
        }
      }
    },
    {
      "data": {"name": "contours"},
      "transform": [{"filter": "datum.sty == 'solid'"}],
      "mark": {"type": "line", "clip": true, "color": "#111", "strokeWidth": 1.6},
      "encoding": {"detail": {"field": "seg"}, "order": {"field": "k", "type": "quantitative"}}
    },
    {
      "data": {"name": "contours"},
      "transform": [{"filter": "datum.sty == 'thin'"}],
      "mark": {"type": "line", "clip": true, "color": "#222", "strokeWidth": 0.8, "strokeDash": [3, 1.5]},
      "encoding": {"detail": {"field": "seg"}, "order": {"field": "k", "type": "quantitative"}}
    },
    {
      "data": {"name": "contours"},
      "transform": [{"filter": "datum.sty != 'thin' && datum.sty != 'solid'"}],
      "mark": {"type": "line", "clip": true, "color": "#111", "strokeWidth": 1.3},
      "encoding": {
        "detail": {"field": "seg"},
        "order": {"field": "k", "type": "quantitative"},
        "strokeDash": {"field": "sty", "type": "nominal", "scale": {"domain": ["d320", "d310", "d290", "d340"], "range": [[9, 9], [20, 7], [14, 8], [10, 10]]}, "legend": null}
      }
    },
    {
      "data": {"name": "labels"},
      "mark": {"type": "text", "font": "Liberation Sans", "fontSize": 12, "fontStyle": "italic", "color": "#111", "align": "center", "baseline": "middle"},
      "encoding": {"text": {"field": "t"}}
    },
    {
      "data": {"name": "tilted"},
      "mark": {"type": "text", "font": "Liberation Sans", "fontSize": 12, "fontStyle": "italic", "color": "#111", "align": "center", "baseline": "middle", "angle": 335},
      "encoding": {"text": {"field": "t"}}
    },
    {
      "data": {"name": "bathy"},
      "mark": {"type": "rect", "clip": true, "color": "#383838", "stroke": "#383838", "strokeWidth": 0.8},
      "encoding": {"x2": {"field": "lon2"}, "y2": {"datum": 569}}
    },
    {
      "data": {"name": "stations"},
      "mark": {"type": "circle", "size": 40, "color": "#3c3f44", "opacity": 1}
    },
    {
      "data": {"values": [{}]},
      "mark": {"type": "rect", "fill": null, "stroke": "#111", "strokeWidth": 1.5},
      "encoding": {"x": {"datum": -56.89}, "x2": {"datum": -53.29}, "y": {"datum": 0}, "y2": {"datum": 569}}
    },
    {
      "data": {"name": "note"},
      "mark": {"type": "text", "angle": 270, "font": "Liberation Sans", "fontSize": 9, "fontStyle": "italic", "fontWeight": "bold", "color": "#222", "align": "center", "baseline": "middle"},
      "encoding": {"text": {"field": "t"}}
    }
  ]
}
